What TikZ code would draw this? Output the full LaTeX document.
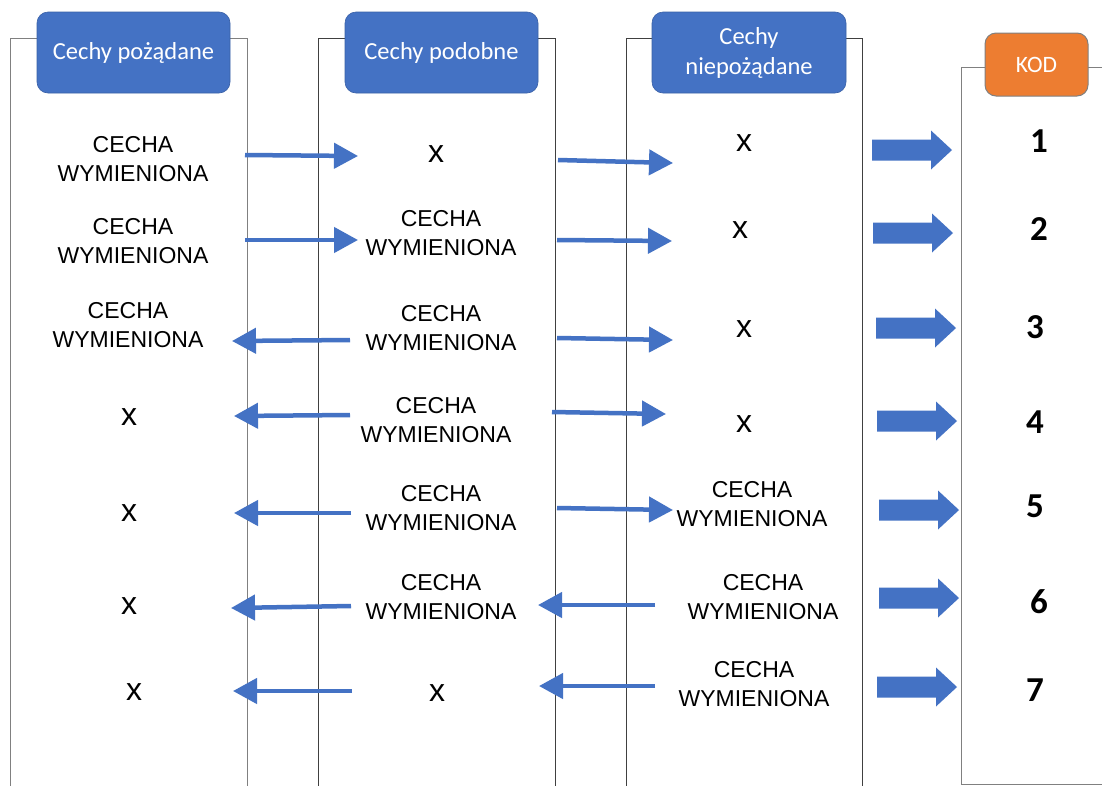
\documentclass[tikz,border=0pt]{standalone}
\usepackage{fontspec}
\setmainfont{Liberation Sans}
\newfontfamily\hdrfont{Carlito}
\usetikzlibrary{arrows.meta}
\definecolor{blu}{HTML}{4472C4}
\definecolor{ora}{HTML}{ED7D31}
\definecolor{framegray}{HTML}{404040}
\tikzset{
  colframe/.style={draw=framegray,line width=1pt},
  hdrblue/.style={rounded corners=11pt,fill=blu,draw=blu!85!black,line width=0.6pt,
    text=white,font=\hdrfont\fontsize{24.5}{30}\selectfont,align=center,
    minimum width=193pt,minimum height=81pt,inner sep=0pt},
  hdrorange/.style={rounded corners=11pt,fill=ora,draw=gray,line width=1pt,
    text=white,font=\hdrfont\fontsize{23.5}{30}\selectfont,
    minimum width=103pt,minimum height=63pt,inner sep=0pt},
  feat/.style={align=center,font=\fontsize{23}{28.5}\selectfont,inner sep=0pt},
  nofeat/.style={font=\fontsize{32}{32}\selectfont,inner sep=0pt},
  codenum/.style={font=\hdrfont\bfseries\fontsize{35}{35}\selectfont,inner sep=0pt},
  link/.style={draw=blu,line width=4.5pt,-{Triangle[length=24pt,width=25pt]}},
  bigarrow/.pic={\fill[blu] (0,-10.5) -- (59,-10.5) -- (59,-19.5) -- (80,0)
    -- (59,19.5) -- (59,10.5) -- (0,10.5) -- cycle;}
}
\begin{document}
\begin{tikzpicture}[x=1pt,y=-1pt]
\useasboundingbox (0,0) rectangle (1102,785);
\fill[white] (0,0) rectangle (1102,785);

% column frames
\draw[colframe,draw=gray] (10,786) -- (10,38) -- (247,38) -- (247,786);
\draw[colframe] (318,786) -- (318,38) -- (555,38) -- (555,786);
\draw[colframe] (626,786) -- (626,38) -- (862,38) -- (862,786);
\draw[colframe,draw=gray] (1103,67) -- (961,67) -- (961,784) -- (1103,784);

% column headers
\node[hdrblue] (h1) at (133.5,52.5) {Cechy pożądane};
\node[hdrblue] (h2) at (441.5,52.5) {Cechy podobne};
\node[hdrblue,minimum width=194pt] (h3) at (749,52.5) {Cechy\\niepożądane};
\node[hdrorange] (h4) at (1036.5,64.5) {KOD};

% row 1
\node[feat] (r1a) at (133,159) {CECHA\\WYMIENIONA};
\node[nofeat] (r1b) at (436,154) {x};
\node[nofeat] (r1c) at (744,143) {x};
\node[codenum] (r1d) at (1039,141) {1};
% row 2
\node[feat] (r2a) at (133,241) {CECHA\\WYMIENIONA};
\node[feat] (r2b) at (441,233) {CECHA\\WYMIENIONA};
\node[nofeat] (r2c) at (740,230) {x};
\node[codenum] (r2d) at (1039,229) {2};
% row 3
\node[feat] (r3a) at (128,325) {CECHA\\WYMIENIONA};
\node[feat] (r3b) at (441,328) {CECHA\\WYMIENIONA};
\node[nofeat] (r3c) at (744,329) {x};
\node[codenum] (r3d) at (1035,327) {3};
% row 4
\node[nofeat] (r4a) at (129,417) {x};
\node[feat] (r4b) at (436,420) {CECHA\\WYMIENIONA};
\node[nofeat] (r4c) at (744,424) {x};
\node[codenum] (r4d) at (1035,422) {4};
% row 5
\node[nofeat] (r5a) at (129,513) {x};
\node[feat] (r5b) at (441,508) {CECHA\\WYMIENIONA};
\node[feat] (r5c) at (752,504) {CECHA\\WYMIENIONA};
\node[codenum] (r5d) at (1035,506) {5};
% row 6
\node[nofeat] (r6a) at (129,606) {x};
\node[feat] (r6b) at (441,597) {CECHA\\WYMIENIONA};
\node[feat] (r6c) at (763,597) {CECHA\\WYMIENIONA};
\node[codenum] (r6d) at (1039,602) {6};
% row 7
\node[nofeat] (r7a) at (134,692) {x};
\node[nofeat] (r7b) at (437,693) {x};
\node[feat] (r7c) at (754,684) {CECHA\\WYMIENIONA};
\node[codenum] (r7d) at (1035,690) {7};

% arrow end points between the columns
\coordinate (p1a) at (245,155); \coordinate (p1b) at (358,156);
\coordinate (q1a) at (558,160); \coordinate (q1b) at (673,163);
\coordinate (p2a) at (245,240); \coordinate (p2b) at (358,240);
\coordinate (q2a) at (557,240); \coordinate (q2b) at (672,241);
\coordinate (p3a) at (350,340); \coordinate (p3b) at (232,341);
\coordinate (q3a) at (557,338); \coordinate (q3b) at (673,340);
\coordinate (p4a) at (350,415); \coordinate (p4b) at (234,416);
\coordinate (q4a) at (552,412); \coordinate (q4b) at (666,414);
\coordinate (p5a) at (351,513); \coordinate (p5b) at (234,513);
\coordinate (q5a) at (557,508); \coordinate (q5b) at (673,510);
\coordinate (p6a) at (351,606); \coordinate (p6b) at (231,608);
\coordinate (q6a) at (655,605); \coordinate (q6b) at (538,605);
\coordinate (p7a) at (352,691); \coordinate (p7b) at (233,691);
\coordinate (q7a) at (655,686); \coordinate (q7b) at (539,686);

\foreach \r in {1,...,7} {
  \draw[link] (p\r a) -- (p\r b);
  \draw[link] (q\r a) -- (q\r b);
}

% block arrows into the code column
\pic at (872,150) {bigarrow};
\pic at (873,233) {bigarrow};
\pic at (876,328) {bigarrow};
\pic at (877,421) {bigarrow};
\pic at (879,510) {bigarrow};
\pic at (879,598) {bigarrow};
\pic at (877,687) {bigarrow};
\end{tikzpicture}
\end{document}
